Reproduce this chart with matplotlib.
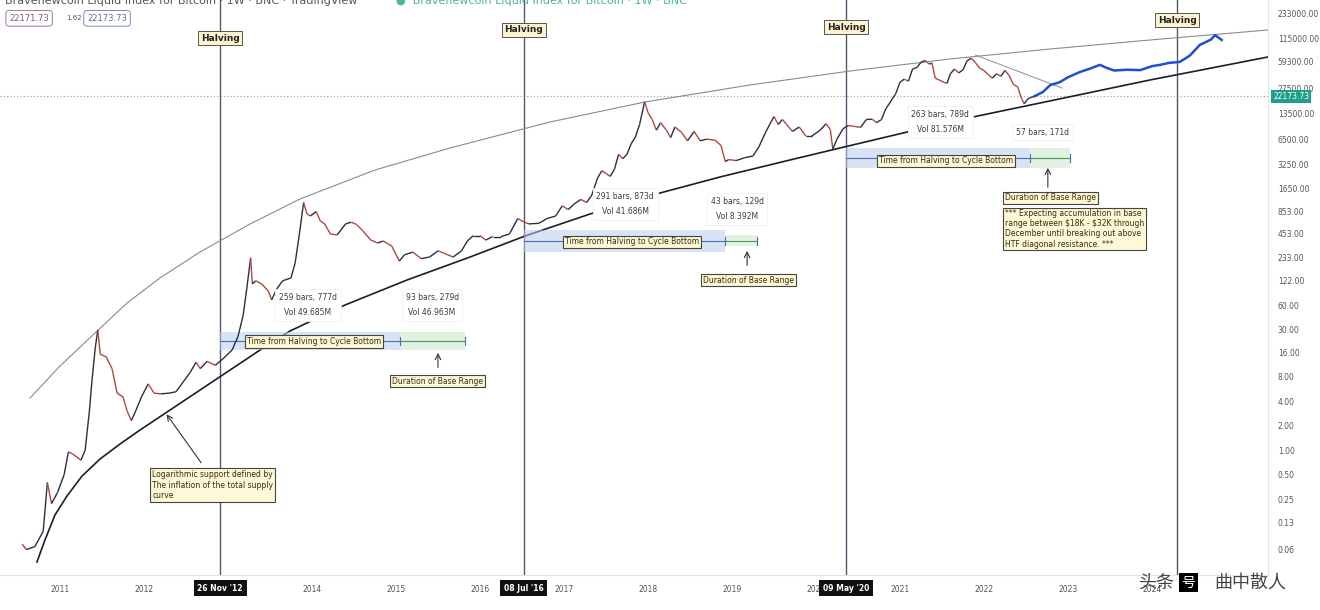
import numpy as np
import matplotlib.pyplot as plt
from matplotlib.collections import LineCollection
from matplotlib.transforms import blended_transform_factory

plt.rcParams['font.family'] = ['DejaVu Sans', 'Noto Sans CJK SC']

# BTC price path (decimal year, USD)
price_t = [2010.55, 2010.6, 2010.7, 2010.8, 2010.85, 2010.9, 2010.97, 2011.05, 2011.1, 2011.15,
           2011.25, 2011.3, 2011.35, 2011.38, 2011.42, 2011.45, 2011.48, 2011.55, 2011.62, 2011.68,
           2011.75, 2011.8, 2011.85, 2011.9, 2011.97, 2012.05, 2012.12, 2012.2, 2012.3, 2012.38,
           2012.45, 2012.55, 2012.62, 2012.67, 2012.75, 2012.85, 2012.95, 2013.05, 2013.12, 2013.18,
           2013.22, 2013.27, 2013.29, 2013.33, 2013.4, 2013.48, 2013.52, 2013.58, 2013.65, 2013.75,
           2013.8, 2013.85, 2013.9, 2013.94, 2013.98, 2014.05, 2014.1, 2014.15, 2014.22, 2014.3,
           2014.4, 2014.47, 2014.53, 2014.6, 2014.7, 2014.78, 2014.85, 2014.95, 2015.04, 2015.1,
           2015.2, 2015.3, 2015.4, 2015.5, 2015.58, 2015.68, 2015.78, 2015.85, 2015.92, 2016.0,
           2016.07, 2016.15, 2016.25, 2016.35, 2016.45, 2016.5, 2016.58, 2016.7, 2016.8, 2016.9,
           2016.98, 2017.05, 2017.12, 2017.2, 2017.27, 2017.33, 2017.4, 2017.45, 2017.5, 2017.55,
           2017.6, 2017.65, 2017.7, 2017.75, 2017.8, 2017.85, 2017.9, 2017.96, 2018.0, 2018.05,
           2018.1, 2018.15, 2018.22, 2018.27, 2018.32, 2018.4, 2018.47, 2018.55, 2018.62, 2018.7,
           2018.8, 2018.87, 2018.92, 2018.96, 2019.05, 2019.15, 2019.25, 2019.32, 2019.4, 2019.47,
           2019.5, 2019.55, 2019.6, 2019.65, 2019.72, 2019.8, 2019.88, 2019.95, 2020.05, 2020.12,
           2020.17, 2020.2, 2020.25, 2020.32, 2020.38, 2020.45, 2020.53, 2020.6, 2020.67, 2020.72,
           2020.78, 2020.83, 2020.88, 2020.95, 2021.0, 2021.05, 2021.1, 2021.15, 2021.2, 2021.25,
           2021.3, 2021.35, 2021.38, 2021.42, 2021.47, 2021.52, 2021.56, 2021.6, 2021.65, 2021.7,
           2021.75, 2021.8, 2021.85, 2021.9, 2021.95, 2022.0, 2022.05, 2022.1, 2022.15, 2022.2,
           2022.25, 2022.3, 2022.35, 2022.4, 2022.45, 2022.48, 2022.52, 2022.56, 2022.6]
price_v = [0.07, 0.06, 0.065, 0.1, 0.4, 0.22, 0.3, 0.5, 0.95, 0.9,
           0.75, 1.0, 3.0, 7, 18, 30, 15, 14, 10, 5,
           4.5, 3, 2.3, 3, 4.5, 6.5, 5, 4.9, 5, 5.2,
           6.5, 9, 12, 10, 12.3, 11, 13.5, 17, 25, 45,
           90, 230, 110, 120, 110, 90, 70, 95, 120, 130,
           200, 450, 1100, 800, 750, 850, 650, 600, 450, 440,
           600, 630, 590, 500, 380, 350, 370, 320, 210, 250,
           270, 225, 235, 280, 260, 235, 280, 370, 430, 430,
           380, 420, 420, 450, 700, 650, 600, 610, 700, 750,
           1000, 900, 1050, 1200, 1100, 1350, 2200, 2700, 2500, 2300,
           2800, 4300, 3800, 4300, 5800, 7000, 10000, 19000, 14000, 11500,
           8500, 10500, 8500, 6900, 9300, 8000, 6300, 8200, 6300, 6600,
           6400, 5500, 3500, 3700, 3600, 3900, 4100, 5300, 8000, 11000,
           12500, 10000, 11500, 10000, 8200, 9300, 7200, 7200, 8500, 10200,
           8700, 5000, 6600, 8800, 9700, 9500, 9200, 11500, 11600, 10500,
           11500, 15500, 18500, 24000, 33000, 36000, 34000, 48000, 50000, 58000,
           61000, 55000, 57000, 37000, 35000, 33000, 32000, 42000, 48000, 43000,
           47000, 61000, 65000, 57000, 49000, 46000, 41000, 37000, 42000, 39000,
           46000, 40000, 31000, 29000, 20500, 18000, 20500, 21500, 22173.73]

# projected path (blue)
proj_t = [2022.6, 2022.7, 2022.79, 2022.9, 2023.0, 2023.14, 2023.25, 2023.38, 2023.45, 2023.55,
          2023.7, 2023.86, 2024.0, 2024.1, 2024.2, 2024.33, 2024.45, 2024.57, 2024.7, 2024.75,
          2024.8, 2024.83]
proj_v = [22173.73, 25000, 30500, 33000, 38000, 44000, 48000, 54000, 50000, 46000,
          47000, 46500, 52000, 54000, 57000, 58600, 70000, 95000, 110000, 125000,
          115000, 109000]

# upper (thin) and lower (support) log curves
upper_t = [2010.643, 2011.0, 2011.417, 2011.798, 2012.19, 2012.667, 2013.262, 2013.857, 2014.75,
           2015.643, 2016.833, 2017.964, 2019.214, 2020.405, 2021.595, 2022.786, 2023.976, 2025.381]
upper_v = [4.35, 10.77, 27.4, 64, 130, 271, 598, 1214, 2756,
           5137, 10720, 18870, 30530, 45350, 63700, 84500, 109000, 144700]
support_t = [2010.726, 2010.821, 2010.94, 2011.083, 2011.262, 2011.476, 2011.714, 2011.952, 2012.274,
             2012.667, 2013.024, 2013.381, 2013.738, 2014.393, 2015.131, 2015.881, 2016.536, 2017.31,
             2018.143, 2018.857, 2019.69, 2020.286, 2021.036, 2021.869, 2022.667, 2023.976, 2025.381]
support_v = [0.0421, 0.0785, 0.159, 0.272, 0.479, 0.775, 1.185, 1.76, 2.93,
             5.46, 9.61, 16.9, 29.0, 60.5, 122.7, 235, 426, 794,
             1438, 2261, 3658, 5137, 7850, 12350, 18340, 35170, 67450]

halving_t = [2012.907, 2016.52, 2020.36, 2024.30]
halving_dates = ["26 Nov '12", "08 Jul '16", "09 May '20"]

ytick_vals = [233000, 115000, 59300, 27500, 13500, 6500, 3250, 1650, 853, 453, 233, 122,
              60, 30, 16, 8, 4, 2, 1, 0.5, 0.25, 0.13, 0.06]
year_ticks = [2011, 2012, 2014, 2015, 2016, 2017, 2018, 2019, 2020, 2021, 2022, 2023, 2024]
last_price = 22173.73

# ranges: (halving start, cycle bottom, base end, low, high)
ranges = [(2012.907, 2015.048, 2015.821, 16.9, 28.2),
          (2016.52, 2018.917, 2019.298, 271, 505),
          (2020.36, 2022.548, 2023.024, 2917, 5140)]
range_stats = [("259 bars, 777d\nVol 49.685M", "93 bars, 279d\nVol 46.963M"),
               ("291 bars, 873d\nVol 41.686M", "43 bars, 129d\nVol 8.392M"),
               ("263 bars, 789d\nVol 81.576M", "57 bars, 171d")]

fig = plt.figure(figsize=(13.2, 6.1), dpi=100)
ax = fig.add_axes([0, 35 / 610, 1268 / 1320, 575 / 610])
ax.set_yscale('log')
ax.set_xlim(2010.286, 2025.381)
ax.set_ylim(0.02918, 337900)

# price with up/down colouring
pts = np.column_stack([price_t, price_v])
segs = np.stack([pts[:-1], pts[1:]], axis=1)
cols = ['#2b2d42' if b[1] >= a[1] else '#b0483f' for a, b in zip(pts[:-1], pts[1:])]
ax.add_collection(LineCollection(segs, colors=cols, linewidths=1.0, zorder=4))
ax.plot(proj_t, proj_v, color='#1f4fd0', lw=1.8, zorder=4)

ax.plot(upper_t, upper_v, color='#8a8a8a', lw=0.8, zorder=2)
ax.plot(support_t, support_v, color='#1d1d2a', lw=1.2, zorder=2)
ax.plot([2021.9, 2022.93], [71000, 28000], color='#9a9a9a', lw=0.8, zorder=2)

ax.axhline(last_price, color='#9aa0a6', lw=0.8, ls=(0, (1, 2)), zorder=1)

for t in halving_t:
    ax.axvline(t, color='#5a546e', lw=1.0, zorder=1)

note = dict(boxstyle='square,pad=0.25', fc='#fdf8d6', ec='#444444', lw=0.8)
white = dict(boxstyle='square,pad=0.5', fc='white', ec='#f0f0f0', lw=0.6)
fs = 5.5

label_pos = [(2014.02, 21.8), (2017.81, 360), (2021.55, 3556)]
stat_pos = [((2013.95, 60.5), (2015.43, 60.5)),
            ((2017.73, 1053), (2019.06, 915)),
            ((2021.48, 10700), (2022.70, 8075))]
dur_pos = [((2015.49, 7.04), (2015.5, 9.6), (2015.5, 16.9)),
           ((2019.2, 122.6), (2019.18, 172), (2019.18, 303)),
           ((2022.79, 1249), (2022.76, 1565), (2022.76, 3170))]

for i, (h, b, e, lo, hi) in enumerate(ranges):
    ax.fill_between([h, b], lo, hi, color='#b9cdef', alpha=0.55, lw=0, zorder=3)
    glo, ghi = (lo, hi) if i != 1 else (321, 438)
    ax.fill_between([b, e], glo, ghi, color='#cfe8cf', alpha=0.6, lw=0, zorder=3)
    mid = np.sqrt(lo * hi)
    ax.plot([h, b], [mid, mid], color='#4a6fb5', lw=0.8, zorder=3)
    ax.plot([b, e], [mid, mid], color='#4a9a5a', lw=0.8, zorder=3)
    for xx in (b, e):
        ax.plot([xx, xx], [mid * 0.9, mid / 0.9], color='#4a6fb5', lw=0.8, zorder=3)
    ax.text(*label_pos[i], 'Time from Halving to Cycle Bottom', fontsize=fs, ha='center',
            va='center', color='#3a2a10', bbox=note, zorder=6)
    for (sx, sy), s in zip(stat_pos[i], range_stats[i]):
        ax.text(sx, sy, s, fontsize=fs, ha='center', va='center', color='#3a3a4a',
                linespacing=1.8, bbox=white, zorder=5)
    (dx, dy), tail, head = dur_pos[i]
    ax.annotate('', xy=head, xytext=tail,
                arrowprops=dict(arrowstyle='->', color='#333333', lw=0.8), zorder=6)
    ax.text(dx, dy, 'Duration of Base Range', fontsize=fs, ha='center', va='center',
            color='#3a2a10', bbox=note, zorder=6)

ax.annotate('', xy=(2012.25, 2.93), xytext=(2012.70, 0.654),
            arrowprops=dict(arrowstyle='->', color='#333333', lw=0.8))
ax.text(2012.10, 0.372, 'Logarithmic support defined by\nThe inflation of the total supply\ncurve',
        fontsize=fs, ha='left', va='center', color='#3a2a10', bbox=note, zorder=6)
ax.text(2022.25, 520, '*** Expecting accumulation in base\nrange between \\$18K - \\$32K through\n'
        'December until breaking out above\nHTF diagonal resistance. ***',
        fontsize=fs, ha='left', va='center', color='#3a2a10', linespacing=1.15,
        bbox=dict(boxstyle='square,pad=0.2', fc='#fdf8d6', ec='#444444', lw=0.8), zorder=6)

# axes styling
for s in ['top', 'left']:
    ax.spines[s].set_visible(False)
ax.spines['right'].set_color('#e4e4e4')
ax.spines['bottom'].set_color('#e4e4e4')
ax.yaxis.tick_right()
ax.set_yticks(ytick_vals)
ax.set_yticklabels(['%.2f' % v for v in ytick_vals])
ax.minorticks_off()
ax.set_xticks(year_ticks)
ax.set_xticklabels([str(y) for y in year_ticks])
ax.tick_params(axis='y', length=0, pad=7, labelsize=5.5, labelcolor='#555555')
ax.tick_params(axis='x', length=0, pad=7, labelsize=5.5, labelcolor='#555555')

# price label on the scale
ax.text(1.004, last_price, '%.2f' % last_price, transform=blended_transform_factory(ax.transAxes, ax.transData),
        fontsize=5.5, color='white', va='center', ha='left', clip_on=False,
        bbox=dict(boxstyle='square,pad=0.3', fc='#1f9e89', ec='none'))

trans = blended_transform_factory(ax.transData, fig.transFigure)
for t, yy in zip(halving_t, [0.9377, 0.951, 0.9557, 0.967]):
    ax.text(t, yy, 'Halving', transform=trans, fontsize=6.5, fontweight='bold', ha='center',
            va='center', color='#222222', bbox=dict(boxstyle='square,pad=0.3', fc='#fdf4cf', ec='#555555', lw=0.7),
            zorder=7)
for t, d in zip(halving_t, halving_dates):
    ax.text(t, 0.036, d, transform=trans, fontsize=5.5, fontweight='bold', ha='center', va='center',
            color='white', bbox=dict(boxstyle='square,pad=0.5', fc='#111111', ec='none'), clip_on=False, zorder=7)

# header
fig.text(0.004, 0.998, 'Bravenewcoin Liquid Index for Bitcoin · 1W · BNC · TradingView', fontsize=8,
         color='#555555', va='center')
fig.text(0.30, 0.998, '●  Bravenewcoin Liquid Index for Bitcoin · 1W · BNC', fontsize=8,
         color='#4bb3a0', va='center')
fig.text(0.007, 0.970, '22171.73', fontsize=6, color='#7a5a7a', va='center',
         bbox=dict(boxstyle='round,pad=0.4', fc='white', ec='#a07aa0', lw=0.7))
fig.text(0.05, 0.970, '1.62', fontsize=5, color='#555555', va='center')
fig.text(0.066, 0.970, '22173.73', fontsize=6, color='#5a6a9a', va='center',
         bbox=dict(boxstyle='round,pad=0.4', fc='white', ec='#7a8ac0', lw=0.7))

# watermark
fig.text(0.862, 0.045, '头条', fontsize=13, color='#444444', va='center', family=['Noto Sans CJK SC'])
fig.text(0.895, 0.045, '号', fontsize=10, color='white', va='center', family=['Noto Sans CJK SC'],
         bbox=dict(boxstyle='square,pad=0.2', fc='black', ec='none'))
fig.text(0.92, 0.045, '曲中散人', fontsize=13, color='#444444', va='center', family=['Noto Sans CJK SC'])

fig.savefig('out.png', dpi=100, facecolor='white')
